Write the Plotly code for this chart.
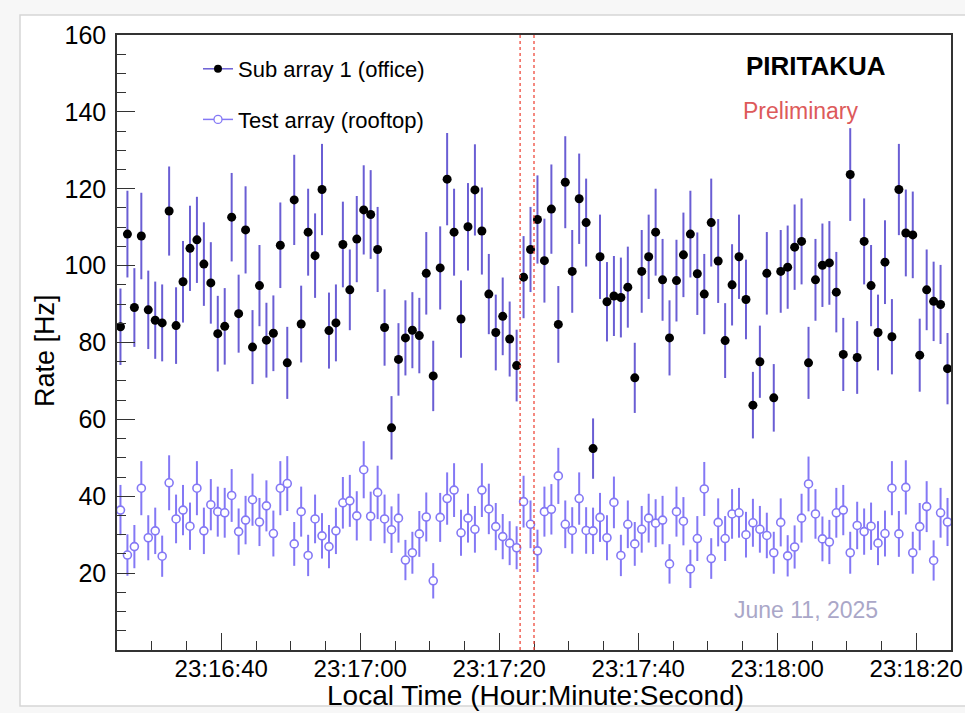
import numpy as np
import pandas as pd
import plotly.graph_objects as go

# ---------------- data ----------------
TIME_START = "2025-06-11 23:16:25.5"   # centre of first 1-s sample
SAMPLE_FREQ = "1s"
EXPOSURE_S = 0.85                      # effective live time per sample (Poisson errors)

office_rate = [
    84.1, 108.2, 89.1, 107.7, 88.5, 85.8, 85.1, 114.2, 84.4, 95.8,
    104.5, 106.7, 100.4, 95.5, 82.3, 84.2, 112.6, 87.5, 109.3, 78.8,
    94.8, 80.6, 82.4, 105.3, 74.7, 117.1, 84.8, 108.7, 102.6, 119.8,
    83.1, 85.1, 105.5, 93.7, 106.9, 114.5, 113.3, 104.2, 83.9, 57.8,
    75.6, 81.2, 83.2, 81.8, 98.0, 71.3, 99.4, 122.5, 108.7, 86.1,
    110.1, 119.7, 109.0, 92.6, 82.6, 86.8, 80.9, 74.0, 97.0, 104.2,
    112.0, 101.3, 114.7, 84.7, 121.7, 98.5, 117.4, 111.2, 52.4, 102.3,
    90.6, 92.1, 91.7, 94.4, 70.8, 98.5, 102.3, 108.7, 96.3, 81.2,
    96.1, 102.8, 108.2, 97.9, 92.6, 111.2, 101.2, 80.5, 95.0, 102.3,
    91.2, 63.7, 75.0, 98.0, 65.6, 98.5, 99.6, 104.8, 106.3, 74.7,
    96.3, 100.1, 100.7, 93.1, 76.9, 123.7, 76.1, 106.3, 94.8, 82.6,
    100.9, 81.5, 119.8, 108.5, 108.0, 76.7, 93.7, 90.7, 89.9, 73.2,
]

rooftop_rate = [
    36.4, 24.7, 26.9, 42.1, 29.2, 31.0, 24.4, 43.5, 34.1, 36.4,
    32.2, 42.1, 31.0, 37.8, 36.0, 35.7, 40.2, 30.8, 33.8, 39.1,
    33.3, 37.5, 30.3, 42.1, 43.3, 27.6, 36.0, 24.6, 34.1, 29.7,
    26.9, 31.0, 38.3, 38.8, 34.9, 46.9, 34.8, 41.0, 34.1, 31.3,
    34.3, 23.4, 25.3, 30.2, 34.6, 18.0, 34.5, 39.4, 41.6, 30.5,
    34.3, 31.4, 41.6, 36.7, 32.1, 29.5, 27.8, 26.6, 38.6, 32.7,
    25.8, 36.0, 36.6, 45.3, 32.7, 31.1, 39.4, 31.1, 31.0, 34.5,
    29.2, 38.4, 24.6, 32.7, 27.6, 31.4, 34.3, 33.0, 33.8, 22.4,
    36.0, 33.5, 21.1, 29.0, 41.9, 23.8, 33.2, 29.0, 35.4, 35.7,
    30.0, 33.1, 31.4, 29.8, 25.3, 33.2, 24.5, 26.8, 34.3, 43.2,
    35.4, 28.9, 28.1, 35.7, 36.4, 25.3, 32.4, 30.8, 32.2, 27.8,
    30.3, 42.1, 30.2, 42.3, 25.3, 32.1, 37.3, 23.3, 35.7, 33.3,
]

series_names = ["Sub array 1 (office)", "Test array (rooftop)"]
event_times = ["2025-06-11 23:17:23", "2025-06-11 23:17:25"]
x_range = ["2025-06-11 23:16:25", "2025-06-11 23:18:25"]
x_tick0 = "2025-06-11 23:16:40"
y_range = [0, 160]
y_tickvals = [20, 40, 60, 80, 100, 120, 140, 160]

# ---------------- derived ----------------
times = pd.date_range(TIME_START, periods=len(office_rate), freq=SAMPLE_FREQ)
t_str = times.strftime("%Y-%m-%d %H:%M:%S.%f").tolist()
office_err = np.sqrt(np.array(office_rate) / EXPOSURE_S)
rooftop_err = np.sqrt(np.array(rooftop_rate) / EXPOSURE_S)

OFFICE_BAR = "#6a5ed4"
ROOF_COL = "#8478f5"
FONT = "Liberation Sans, Arial, Helvetica, sans-serif"

fig = go.Figure()

fig.add_trace(go.Scatter(
    x=t_str, y=office_rate, mode="markers", showlegend=False,
    marker=dict(color="black", size=9, line=dict(width=0)),
    error_y=dict(type="data", array=office_err, color=OFFICE_BAR, thickness=2, width=0),
))
fig.add_trace(go.Scatter(
    x=t_str, y=rooftop_rate, mode="markers", showlegend=False,
    marker=dict(color="white", size=8, line=dict(color=ROOF_COL, width=1.6)),
    error_y=dict(type="data", array=rooftop_err, color=ROOF_COL, thickness=2, width=0),
))

# legend entries (line + marker, ROOT "lep" style)
fig.add_trace(go.Scatter(
    x=[None], y=[None], mode="lines+markers", name=series_names[0], legendgroup="a",
    line=dict(color=OFFICE_BAR, width=1.5), marker=dict(color="black", size=8),
))
fig.add_trace(go.Scatter(
    x=[None], y=[None], mode="lines+markers", name=series_names[1], legendgroup="b",
    line=dict(color=ROOF_COL, width=1.5),
    marker=dict(color="white", size=8, line=dict(color=ROOF_COL, width=1.3)),
))

L, R, T, B = 117, 14, 35, 63
W, H = 965, 713
pw, ph = W - L - R, H - T - B


def px(xp):
    return (xp - L) / pw


def py(yp):
    return (H - B - yp) / ph


shapes = [
    dict(type="rect", xref="paper", yref="paper", x0=px(20), x1=px(1000), y0=py(706), y1=py(15),
         fillcolor="white", line=dict(color="#d6d6d6", width=1.5), layer="below"),
]
for t in event_times:
    shapes.append(dict(type="line", xref="x", yref="paper", x0=t, x1=t, y0=0, y1=1,
                       line=dict(color="#ee4a3c", width=1.3, dash="dot")))


def ann(text, xp, yp, size, color, angle=0):
    return dict(text=text, x=px(xp), y=py(yp), xref="paper", yref="paper",
                xanchor="center", yanchor="middle", showarrow=False, textangle=angle,
                font=dict(size=size, color=color, family=FONT))


annotations = [
    ann("<b>PIRITAKUA</b>", 816, 66, 26, "black"),
    ann("Preliminary", 801, 111, 23, "#dd5a5a"),
    ann("June 11, 2025", 806, 610, 23, "#aaa7c8"),
    ann("Rate [Hz]", 45, 351, 27, "black", angle=-90),
    ann("Local Time (Hour:Minute:Second)", 535, 695, 28, "black"),
]

fig.update_layout(
    width=W, height=H,
    margin=dict(l=L, r=R, t=T, b=B, autoexpand=False),
    paper_bgcolor="#f7f7f7", plot_bgcolor="white",
    font=dict(family=FONT, color="black"),
    shapes=shapes, annotations=annotations,
    legend=dict(x=px(198), y=py(48), xanchor="left", yanchor="top",
                bgcolor="rgba(0,0,0,0)", font=dict(size=22, family=FONT),
                tracegroupgap=19, traceorder="grouped"),
    xaxis=dict(
        type="date", range=x_range, tickformat="%H:%M:%S", tick0=x_tick0, dtick=20000,
        ticks="inside", ticklen=17, tickwidth=1.2, tickcolor="#333", ticklabelstandoff=-4,
        showgrid=False, zeroline=False, showline=True, linecolor="#333", linewidth=1.5, mirror=True,
        tickfont=dict(size=24, family=FONT), automargin=False,
        minor=dict(dtick=5000, tick0=x_tick0, ticks="inside", ticklen=9, tickwidth=1.2,
                   tickcolor="#333", showgrid=False),
    ),
    yaxis=dict(
        range=y_range, tickmode="array", tickvals=y_tickvals,
        ticks="inside", ticklen=18, tickwidth=1.2, tickcolor="#333", ticklabelstandoff=4,
        showgrid=False, zeroline=False, showline=True, linecolor="#333", linewidth=1.5, mirror=True,
        tickfont=dict(size=25, family=FONT), automargin=False,
        minor=dict(tickmode="linear", tick0=0, dtick=5, ticks="inside", ticklen=9, tickwidth=1.2,
                   tickcolor="#333", showgrid=False),
    ),
)

fig.write_html("out.html")
